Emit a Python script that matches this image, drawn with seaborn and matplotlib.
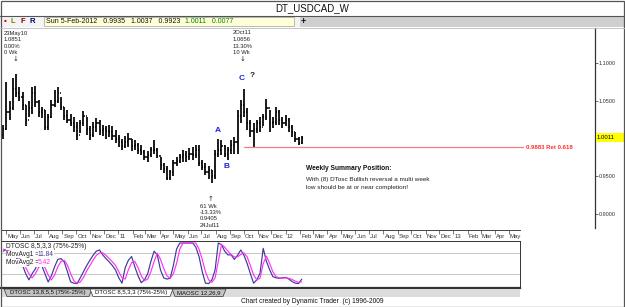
import numpy as np
import pandas as pd
import matplotlib
matplotlib.use("Agg")
import matplotlib.pyplot as plt
import matplotlib.dates as mdates
from matplotlib.patches import Rectangle, Polygon
import seaborn as sns

# ---------------- data ----------------
week_start = "2010-04-25"
n_weeks = 94
highs = [1.0180, 1.0750, 1.0500, 1.0800, 1.0851, 1.0680, 1.0620, 1.0450, 1.0500, 1.0680,
         1.0690, 1.0510, 1.0420, 1.0380, 1.0330, 1.0510, 1.0640, 1.0680, 1.0550, 1.0420,
         1.0380, 1.0330, 1.0290, 1.0220, 1.0250, 1.0360, 1.0290, 1.0160, 1.0220, 1.0270,
         1.0250, 1.0180, 1.0160, 1.0180, 1.0160, 1.0110, 1.0050, 1.0000, 1.0030, 1.0070,
         1.0000, 0.9980, 0.9940, 0.9910, 0.9850, 0.9830, 0.9890, 0.9980, 0.9870, 0.9760,
         0.9670, 0.9630, 0.9580, 0.9720, 0.9760, 0.9800, 0.9850, 0.9830, 0.9870, 0.9890,
         0.9910, 0.9910, 0.9720, 0.9670, 0.9630, 0.9580, 0.9850, 1.0000, 0.9980, 0.9910,
         0.9890, 0.9980, 1.0020, 1.0380, 1.0510, 1.0656, 1.0400, 1.0250, 1.0200, 1.0250,
         1.0290, 1.0330, 1.0520, 1.0380, 1.0290, 1.0420, 1.0380, 1.0290, 1.0310, 1.0270,
         1.0180, 1.0090, 1.0020, 1.0037]
lows = [0.9990, 1.0110, 1.0250, 1.0380, 1.0550, 1.0500, 1.0380, 1.0160, 1.0280, 1.0330,
        1.0420, 1.0290, 1.0270, 1.0110, 1.0110, 1.0270, 1.0420, 1.0470, 1.0380, 1.0240,
        1.0200, 1.0160, 1.0090, 0.9980, 1.0070, 1.0160, 1.0050, 0.9980, 1.0020, 1.0090,
        1.0050, 1.0030, 1.0000, 1.0020, 0.9980, 0.9940, 0.9890, 0.9850, 0.9870, 0.9890,
        0.9830, 0.9850, 0.9800, 0.9780, 0.9720, 0.9690, 0.9760, 0.9800, 0.9740, 0.9580,
        0.9540, 0.9450, 0.9450, 0.9500, 0.9630, 0.9670, 0.9690, 0.9690, 0.9720, 0.9720,
        0.9740, 0.9630, 0.9580, 0.9520, 0.9470, 0.9405, 0.9470, 0.9760, 0.9780, 0.9760,
        0.9720, 0.9800, 0.9800, 0.9800, 1.0200, 1.0290, 1.0110, 1.0020, 0.9883, 1.0070,
        1.0090, 1.0160, 1.0250, 1.0090, 1.0140, 1.0180, 1.0180, 1.0140, 1.0160, 1.0090,
        1.0020, 0.9960, 0.9910, 0.9923]
opens = [1.0050, 1.0120, 1.0350, 1.0400, 1.0650, 1.0600, 1.0550, 1.0450, 1.0250, 1.0400,
         1.0600, 1.0480, 1.0350, 1.0380, 1.0150, 1.0280, 1.0450, 1.0500, 1.0600, 1.0420,
         1.0300, 1.0250, 1.0200, 1.0150, 1.0050, 1.0200, 1.0300, 1.0120, 1.0050, 1.0150,
         1.0200, 1.0100, 1.0120, 1.0100, 1.0080, 1.0030, 1.0000, 0.9950, 0.9900, 0.9950,
         1.0000, 0.9900, 0.9920, 0.9850, 0.9820, 0.9750, 0.9780, 0.9850, 0.9850, 0.9770,
         0.9650, 0.9600, 0.9480, 0.9550, 0.9680, 0.9700, 0.9750, 0.9780, 0.9750, 0.9800,
         0.9780, 0.9850, 0.9680, 0.9620, 0.9550, 0.9580, 0.9500, 0.9800, 0.9850, 0.9900,
         0.9800, 0.9850, 0.9920, 0.9950, 1.0300, 1.0450, 1.0350, 1.0200, 1.0100, 1.0120,
         1.0200, 1.0150, 1.0280, 1.0400, 1.0200, 1.0220, 1.0350, 1.0250, 1.0200, 1.0250,
         1.0150, 1.0080, 1.0000, 0.9935]
closes = [1.0120, 1.0350, 1.0400, 1.0650, 1.0600, 1.0550, 1.0450, 1.0250, 1.0400, 1.0600,
          1.0480, 1.0350, 1.0380, 1.0150, 1.0280, 1.0450, 1.0500, 1.0600, 1.0420, 1.0300,
          1.0250, 1.0200, 1.0150, 1.0050, 1.0200, 1.0300, 1.0120, 1.0050, 1.0150, 1.0200,
          1.0100, 1.0120, 1.0100, 1.0080, 1.0030, 1.0000, 0.9950, 0.9900, 0.9950, 1.0000,
          0.9900, 0.9920, 0.9850, 0.9820, 0.9750, 0.9780, 0.9850, 0.9850, 0.9770, 0.9650,
          0.9600, 0.9480, 0.9550, 0.9680, 0.9700, 0.9750, 0.9780, 0.9750, 0.9800, 0.9780,
          0.9850, 0.9680, 0.9620, 0.9550, 0.9580, 0.9500, 0.9800, 0.9850, 0.9900, 0.9800,
          0.9850, 0.9920, 0.9950, 1.0300, 1.0450, 1.0350, 1.0200, 1.0100, 1.0120, 1.0200,
          1.0150, 1.0280, 1.0400, 1.0200, 1.0220, 1.0350, 1.0250, 1.0200, 1.0250, 1.0150,
          1.0080, 1.0000, 0.9934, 1.0011]
dtosc_fast = [80, 85, 75, 70, 65, 55, 46, 25, 10, 25, 37, 55, 45, 25, 5, 20, 42, 60, 62, 54,
              30, 5, 2, 1, 15, 30, 45, 58, 70, 80, 83, 71, 62, 54, 45, 34, 15, 2, 40, 58,
              67, 42, 20, 3, 10, 25, 55, 80, 71, 34, 15, 12, 14, 45, 85, 100, 100, 100, 100, 100,
              90, 67, 30, 2, 1, 10, 34, 100, 96, 80, 71, 71, 60, 70, 83, 70, 50, 25, 2, 10,
              26, 87, 55, 35, 18, 15, 14, 15, 16, 12, 6, 2, 1, 11.84]
dtosc_slow = [85, 82, 80, 75, 70, 62, 55, 40, 25, 15, 25, 40, 48, 40, 22, 10, 22, 42, 55, 58,
              46, 25, 8, 2, 5, 16, 32, 45, 58, 70, 76, 76, 70, 62, 54, 45, 30, 15, 12, 35,
              52, 55, 40, 20, 8, 12, 30, 55, 75, 60, 38, 20, 14, 25, 50, 85, 100, 100, 100, 100,
              100, 85, 60, 30, 10, 4, 15, 55, 96, 90, 80, 72, 66, 66, 72, 76, 66, 45, 22, 10,
              14, 50, 68, 50, 30, 18, 15, 14, 15, 14, 11, 7, 4, 5.42]
ret_level = 0.9883
price_ticks = [0.90, 0.95, 1.05, 1.10]
last_close = 1.0011
month_names = ["", "Feb", "Mar", "Apr", "May", "Jun", "Jul", "Aug", "Sep", "Oct", "Nov", "Dec"]

dates = pd.date_range(week_start, periods=n_weeks, freq="7D")
dn = mdates.date2num(dates)

# ---------------- layout helpers ----------------
W, H = 625, 307
sns.set_style("white")
plt.rcParams['font.family'] = ['Liberation Sans', 'DejaVu Sans']
fig = plt.figure(figsize=(W / 100, H / 100), dpi=100)
fig.patch.set_facecolor("white")

def rect(x0, y0, x1, y1):
    return [x0 / W, 1 - y1 / H, (x1 - x0) / W, (y1 - y0) / H]

def T(px, py, s, **kw):
    kw.setdefault("va", "center")
    return fig.text(px / W, 1 - py / H, s, **kw)

base = mdates.date2num(pd.Timestamp("2010-05-01"))
def dpx(px):
    return base + (px - 6) / 0.4585

def vpx(py):
    return 1.1 - (py - 63) / 755.0

def opx(py):
    return (284 - py) / 0.41

# ---------------- title & toolbar ----------------
T(312, 8, "DT_USDCAD_W", ha="center", fontsize=7, color="#111111")
fig.add_artist(Rectangle((0, 1 - 27 / H), 1, 11 / H, transform=fig.transFigure,
                         facecolor="#f4f4f4", edgecolor="none"))
fig.add_artist(Rectangle((300 / W, 1 - 27 / H), 325 / W, 11 / H, transform=fig.transFigure,
                         facecolor="#cfcfcf", edgecolor="none"))
fig.add_artist(Rectangle((44 / W, 1 - 26 / H), 250 / W, 9 / H, transform=fig.transFigure,
                         facecolor="#ffffd8", edgecolor="#a0a0a0", lw=0.5))
fig.add_artist(plt.Line2D([0, 1], [1 - 16 / H] * 2, transform=fig.transFigure, color="#555555", lw=0.8))
fig.add_artist(plt.Line2D([0, 1], [1 - 27.5 / H] * 2, transform=fig.transFigure, color="#bbbbbb", lw=0.6))
T(5, 21.5, "•", color="#e00000", fontsize=6, ha="center", fontweight="bold")
T(13, 21.5, "L", color="#808000", fontsize=5.5, ha="center", fontweight="bold")
T(23, 21.5, "F", color="#800000", fontsize=5.5, ha="center", fontweight="bold")
T(32, 21.5, "R", color="#000080", fontsize=5.5, ha="center", fontweight="bold")
T(46, 21.5, "Sun 5-Feb-2012   0.9935   1.0037   0.9923", fontsize=5, color="#111111", ha="left")
T(185, 21.5, "1.0011   0.0077", fontsize=5, color="#008000", ha="left")
T(303, 21.5, "+", fontsize=6.5, fontweight="bold", ha="center", color="#111111")

# ---------------- price panel ----------------
ax = fig.add_axes(rect(1, 28, 595, 228))
ax.set_facecolor("white")
ax.set_xlim(dpx(1), dpx(595))
ax.set_ylim(vpx(228), vpx(28))
for s in ["left", "top", "bottom"]:
    ax.spines[s].set_visible(False)
ax.spines["right"].set_color("#333333")
ax.spines["right"].set_linewidth(0.9)
ax.set_xticks([])
ax.yaxis.tick_right()
ax.set_yticks(price_ticks)
ax.set_yticklabels([f"{t:.4f}" for t in price_ticks])
ax.tick_params(axis="y", labelsize=4, length=2, width=0.5, pad=0.5, colors="#333333")

ax.vlines(dn, lows, highs, color="black", lw=1.25)
ax.hlines(opens, dn - 2.6, dn, color="black", lw=1.1)
ax.hlines(closes, dn, dn + 2.6, color="black", lw=1.1)

sns.lineplot(x=[dn[75], dpx(523)], y=[ret_level, ret_level], ax=ax, color="#f08080", lw=0.9)
ax.text(dpx(526), ret_level, "0.9883 Ret 0.618", fontsize=4.3, color="#ff3030",
        va="center", ha="left", fontweight="bold")

ax.text(dn[67] - 1, vpx(131), "A", color="#2020e0", fontsize=6, ha="center", va="center", fontweight="bold")
ax.text(dn[70] - 4, vpx(167), "B", color="#2020e0", fontsize=6, ha="center", va="center", fontweight="bold")
ax.text(dn[75] - 4, vpx(78), "C", color="#2020e0", fontsize=6, ha="center", va="center", fontweight="bold")
ax.text(dn[78] - 2, vpx(76), "?", color="#222222", fontsize=6, ha="center", va="center", fontweight="bold")

# highlight current close
yc = 63 + (1.1 - last_close) * 755
fig.add_artist(Rectangle((595.5 / W, 1 - (yc + 4.5) / H), 29 / W, 9 / H,
                         transform=fig.transFigure, facecolor="#ffff00", edgecolor="none"))
T(597, yc, "1.0011", fontsize=4.3, color="black", ha="left")

# annotations
T(4, 33, "23May10", fontsize=4.2, ha="left", color="#222222")
T(4, 39.5, "1.0851", fontsize=4.2, ha="left", color="#222222")
T(4, 46, "0.00%", fontsize=4.2, ha="left", color="#222222")
T(4, 52.5, "0 Wk", fontsize=4.2, ha="left", color="#222222")
T(16, 58.5, "↓", fontsize=5, ha="center", color="#222222", family=["DejaVu Sans"])
T(233, 33, "2Oct11", fontsize=4.2, ha="left", color="#222222")
T(233, 39.5, "1.0656", fontsize=4.2, ha="left", color="#222222")
T(233, 46, "13.30%", fontsize=4.2, ha="left", color="#222222")
T(233, 52.5, "10 Wk", fontsize=4.2, ha="left", color="#222222")
T(243, 58.5, "↓", fontsize=5, ha="center", color="#222222", family=["DejaVu Sans"])
T(211, 199, "↑", fontsize=5, ha="center", color="#222222", family=["DejaVu Sans"])
T(200, 206, "61 Wk", fontsize=4.2, ha="left", color="#222222")
T(200, 212.5, "-13.33%", fontsize=4.2, ha="left", color="#222222")
T(200, 219, "0.9405", fontsize=4.2, ha="left", color="#222222")
T(200, 225.5, "24Jul11", fontsize=4.2, ha="left", color="#222222")

T(306, 169, "Weekly Summary Position:", fontsize=4.8, fontweight="bold", ha="left", color="#111111")
T(306, 179, "With (8) DTosc Bullish reversal a multi week", fontsize=4.6, ha="left", color="#222222")
T(306, 188, "low should be at or near completion!", fontsize=4.6, ha="left", color="#222222")

# ---------------- date axis ----------------
axd = fig.add_axes(rect(0.5, 229.5, 520, 241))
axd.set_xlim(dpx(0.5), dpx(520))
axd.set_ylim(0, 1)
for s in ["left", "right", "bottom"]:
    axd.spines[s].set_visible(False)
axd.spines["top"].set_color("#444444")
axd.spines["top"].set_linewidth(0.7)
axd.set_yticks([])
months = pd.date_range("2010-05-01", "2013-05-01", freq="MS")
mnum = mdates.date2num(months)
axd.xaxis.tick_top()
axd.set_xticks(mnum)
axd.set_xticklabels([])
axd.tick_params(axis="x", direction="in", length=3, width=0.5, colors="#444444")
for m, mn in zip(months, mnum):
    lab = f"{m.year % 100:02d}" if m.month == 1 else month_names[m.month - 1]
    axd.text(mn + 2.5, 0.38, lab, fontsize=4.3, ha="left", va="center", color="#333333")

# ---------------- oscillator panel ----------------
axo = fig.add_axes(rect(0.5, 241, 520, 288))
axo.set_xlim(dpx(0.5), dpx(520))
axo.set_ylim(opx(288), opx(241))
axo.set_xticks([])
axo.set_yticks([])
for s in axo.spines.values():
    s.set_color("#333333")
    s.set_linewidth(0.7)
axo.spines["bottom"].set_linewidth(1.6)
axo.axhline(75, color="#c8c8c8", lw=0.7)
axo.axhline(25, color="#c8c8c8", lw=0.7)
sns.lineplot(x=dn, y=dtosc_fast, ax=axo, color="#3c3c90", lw=0.85)
sns.lineplot(x=dn, y=dtosc_slow, ax=axo, color="#ff30ff", lw=0.85)

bb = dict(facecolor="white", edgecolor="none", pad=0.3)
T(6, 246, "DTOSC 8,5,3,3 (75%-25%)", fontsize=4.8, ha="left", color="#222222", bbox=bb)
T(6, 254.5, "MovAvg1 =", fontsize=4.8, ha="left", color="#222222", bbox=bb)
T(38, 254.5, "11.84", fontsize=4.8, ha="left", color="#3c3c90", bbox=bb)
T(6, 263, "MovAvg2 =", fontsize=4.8, ha="left", color="#222222", bbox=bb)
T(38, 263, "5.42", fontsize=4.8, ha="left", color="#ff30ff", bbox=bb)

# ---------------- tabs ----------------
fig.add_artist(Rectangle((0.5 / W, 1 - 297 / H), 519.5 / W, 8.5 / H, transform=fig.transFigure,
                         facecolor="#dcdcdc", edgecolor="none"))
def tab(x0, x1, label, active):
    pts = [(x0 / W, 1 - 289 / H), (x1 / W, 1 - 289 / H), ((x1 - 3) / W, 1 - 296.5 / H),
           ((x0 + 3) / W, 1 - 296.5 / H)]
    fig.add_artist(Polygon(pts, closed=True, transform=fig.transFigure,
                           facecolor="white" if active else "#c4c4c4", edgecolor="#333333", lw=0.5))
    T((x0 + x1) / 2, 292.8, label, fontsize=4.3, ha="center", color="#111111")
tab(4, 92, "DTOSC 13,8,5,5 (75%-25%)", False)
tab(172, 226, "MAOSC 12,26,9", False)
tab(90, 173, "DTOSC 8,5,3,3 (75%-25%)", True)

T(312, 301.5, "Chart created by Dynamic Trader  (c) 1996-2009", fontsize=4.8, ha="center", color="#111111")

# outer frame
fig.add_artist(Rectangle((0.5 / W, 0.5 / H), 1 - 1.5 / W, 1 - 1.5 / H, transform=fig.transFigure,
                         facecolor="none", edgecolor="#555555", lw=0.9))

fig.savefig("out.png", dpi=100, facecolor="white")
